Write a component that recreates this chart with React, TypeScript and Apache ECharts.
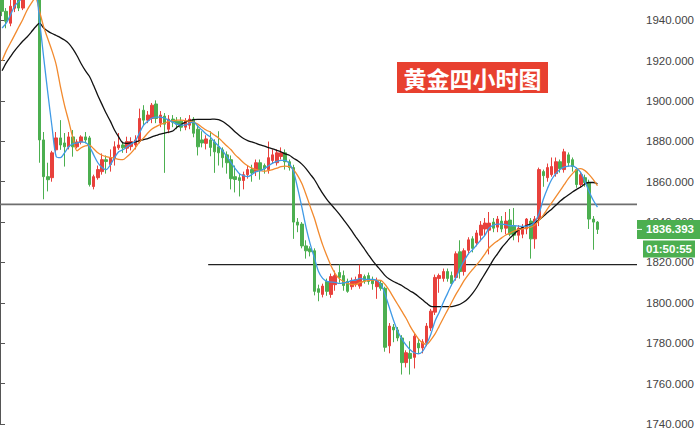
import React, { useEffect, useRef } from "react";
import * as echarts from "echarts";

// ---- data ----
const slotCount = 153; // category slots on the x axis (last ones are empty)
const categories: string[] = Array.from({ length: slotCount }, (_, i) => String(i));

// [open, close, low, high]
const ohlc: number[][] = [
  [1951, 1944.4, 1942, 1953], [1944.4, 1939.5, 1936, 1946], [1938.5, 1946.9, 1937, 1950], [1945.9, 1951, 1944, 1954],
  [1951, 1946, 1944.5, 1953], [1946, 1953, 1945, 1955], [1953, 1958, 1951, 1960], [1958, 1955, 1953, 1960],
  [1955, 1957, 1953, 1959], [1957, 1880.7, 1869.4, 1958], [1880.7, 1862.5, 1851.3, 1884.6], [1862.5, 1861, 1855.2, 1869.4],
  [1862, 1874.3, 1860, 1875.3], [1875.8, 1881.7, 1874.3, 1884.6], [1881.7, 1878.2, 1875.8, 1890.5], [1879.2, 1877.3, 1867.5, 1884.1],
  [1877.3, 1882.2, 1876, 1884.6], [1882.2, 1877.3, 1872.4, 1885.6], [1877.3, 1879.7, 1876.5, 1881], [1879.7, 1882.2, 1878.5, 1883],
  [1882.2, 1880.7, 1879, 1884.6], [1881.7, 1858.6, 1857.6, 1882.7], [1857.6, 1862.5, 1856.2, 1863.5], [1862, 1866, 1861, 1868],
  [1865, 1870.9, 1863.5, 1874], [1870.9, 1870, 1864, 1873], [1868.5, 1871.9, 1865, 1876], [1871.4, 1877.3, 1868, 1880],
  [1876.8, 1878.2, 1875.8, 1884.1], [1878.2, 1876.8, 1874.3, 1879.9], [1876.6, 1879.9, 1874.2, 1882.3], [1877.4, 1879.9, 1875.5, 1882],
  [1878.2, 1880.7, 1876, 1883], [1879.9, 1891.3, 1879, 1896.2], [1895.4, 1890.5, 1888, 1897.9], [1890.5, 1893, 1889, 1895],
  [1891.3, 1897.9, 1889, 1899], [1898.5, 1891.3, 1889, 1900.3], [1889, 1893, 1887, 1895], [1892.5, 1888.5, 1864.4, 1894],
  [1886, 1891, 1884, 1893], [1891, 1889.5, 1887, 1893], [1890, 1888.5, 1886, 1892], [1890, 1887, 1885, 1892],
  [1887, 1890, 1885.5, 1891.5], [1888, 1891, 1886, 1893], [1891, 1884, 1882, 1892], [1886, 1877.3, 1873, 1888],
  [1880.7, 1879.2, 1877, 1885], [1879, 1881.2, 1876, 1883], [1880.7, 1877, 1872.6, 1885], [1879.7, 1874.8, 1864.4, 1881],
  [1877.3, 1874.3, 1868, 1885], [1875.8, 1871.9, 1867, 1877], [1873.3, 1869.4, 1864, 1875], [1870.9, 1861.5, 1856.2, 1873],
  [1862.5, 1861.1, 1854.7, 1868], [1862, 1860.6, 1852.7, 1864], [1860.6, 1863.5, 1856.2, 1865], [1863.5, 1866, 1861.5, 1868],
  [1866, 1864.3, 1860, 1868.4], [1865, 1869.4, 1862.8, 1871], [1869.4, 1865.5, 1861, 1871], [1868, 1866.4, 1864, 1869],
  [1866, 1871.9, 1864, 1879.9], [1870.5, 1873.3, 1869, 1876], [1869.4, 1874.3, 1868, 1876], [1872.5, 1874.3, 1871, 1877],
  [1874.3, 1869.9, 1866, 1876], [1869.9, 1867, 1865.5, 1871], [1867, 1840, 1831.7, 1868.4], [1840, 1838.5, 1835, 1842],
  [1839, 1828.2, 1827, 1840], [1828.2, 1825.8, 1821.9, 1831], [1826.8, 1825.3, 1823, 1828], [1825.8, 1805.7, 1803.7, 1827],
  [1807, 1805.2, 1800.8, 1809], [1804.2, 1808.3, 1802.7, 1809.5], [1810.6, 1805.7, 1803.5, 1812], [1804.2, 1813, 1802.5, 1814.5],
  [1809, 1813.5, 1806, 1816], [1815, 1812.6, 1810, 1819], [1813.5, 1808.6, 1806, 1816], [1810.6, 1805.7, 1805, 1812],
  [1808, 1811, 1806.5, 1812.5], [1809.5, 1811.5, 1808, 1813], [1808.3, 1814, 1807, 1818.9], [1813, 1811, 1809.5, 1814],
  [1813.5, 1810.6, 1809, 1815], [1811.5, 1809.5, 1806.5, 1813], [1808, 1811, 1802, 1812.5], [1809.6, 1807.2, 1806, 1811],
  [1807.2, 1778, 1775.8, 1808], [1778.7, 1788.5, 1775, 1790], [1788, 1786.6, 1780.5, 1789.5], [1786.6, 1782.6, 1781, 1788],
  [1782.6, 1770.4, 1764.5, 1784], [1770.4, 1775.3, 1768, 1776.5], [1775, 1772.5, 1764.5, 1781], [1773, 1783.5, 1767.5, 1785],
  [1780, 1777.7, 1775, 1782], [1777.7, 1780.7, 1775, 1782], [1780.2, 1788.5, 1778.5, 1790], [1787.6, 1795.9, 1786, 1797],
  [1795.4, 1812.6, 1794, 1814], [1812.1, 1813.5, 1805, 1814.5], [1812.1, 1815.5, 1810.5, 1817], [1815.5, 1812.1, 1810.5, 1817],
  [1813.5, 1809.6, 1808.5, 1815.5], [1812.6, 1824.3, 1811, 1825.5], [1825.3, 1815.5, 1812, 1831], [1815.5, 1825.8, 1813.5, 1827],
  [1826, 1831.2, 1824, 1832.5], [1831.7, 1827, 1825, 1833], [1829.7, 1834.6, 1828, 1836], [1833.5, 1838.5, 1830.5, 1840.5],
  [1836.6, 1839.5, 1833, 1842], [1836, 1839.5, 1824, 1845], [1840, 1837, 1835, 1842], [1837.5, 1841.5, 1835, 1843],
  [1840.5, 1836.6, 1835, 1843], [1837, 1840.5, 1834, 1845], [1841, 1834, 1833, 1846.5], [1838, 1833.5, 1831, 1847],
  [1833.5, 1837, 1830, 1838.5], [1834, 1837.5, 1832, 1839], [1836.6, 1841.5, 1834, 1842], [1840.5, 1831.7, 1821.9, 1842],
  [1831.7, 1841.5, 1826.8, 1843], [1841.5, 1866, 1838, 1867], [1865, 1863, 1857.5, 1866], [1862, 1867, 1860, 1869],
  [1863.5, 1867.5, 1862.5, 1872], [1864, 1869.9, 1862.5, 1872], [1869.9, 1866.5, 1864.5, 1871], [1866, 1874.8, 1864.5, 1876.3],
  [1873.3, 1869.4, 1867.5, 1874.5], [1870.9, 1867.5, 1865, 1872], [1866, 1858.6, 1857, 1867], [1858.6, 1863.5, 1857, 1865],
  [1862, 1859.6, 1857.5, 1863.5], [1859.6, 1841.5, 1836.6, 1861], [1841.5, 1840, 1826.3, 1843], [1840, 1836.393, 1834.1, 1840.5],
];

const maBlue: number[] = [
  1936.1, 1938.5, 1942.5, 1946.9, 1949.3, 1951, 1952, 1953, 1954.5, 1939.5, 1921.4, 1903.7, 1887.1, 1872.4, 1871.9, 1874.3,
  1877.3, 1878.7, 1879.2, 1879.7, 1879.5, 1877.3, 1873.3, 1869.4, 1867, 1866, 1868.4, 1871.9, 1874.8, 1875.8, 1877.3, 1878.7,
  1880.2, 1884.1, 1888, 1890, 1891.5, 1892, 1892, 1891.5, 1890.5, 1889.5, 1888.5, 1888, 1888, 1889, 1889.5, 1887.5,
  1885.6, 1883.6, 1882.2, 1879.7, 1877.7, 1875.3, 1872.4, 1869.4, 1866.5, 1864, 1863, 1862.5, 1863.5, 1865, 1865.5, 1866.5,
  1867.9, 1869.2, 1870.1, 1870.6, 1870.6, 1868.9, 1865, 1856.7, 1847.4, 1837.5, 1829.2, 1822.4, 1815.5, 1812.1, 1810.6, 1810.3,
  1810.1, 1809.6, 1809.9, 1810.3, 1811.1, 1811.3, 1812.1, 1811.6, 1811.6, 1811.6, 1811.1, 1809.1, 1804.2, 1797.8, 1791.5, 1786.1,
  1782.2, 1779.2, 1776.8, 1775.3, 1774.8, 1776, 1779.7, 1784.6, 1791, 1795.4, 1800.3, 1804.7, 1809.1, 1812.5, 1817, 1820.9,
  1824.3, 1826.3, 1828.7, 1831.2, 1833.6, 1837.1, 1838.5, 1839, 1839, 1838.8, 1838.2, 1838.2, 1838, 1837.9, 1838, 1838.5,
  1840.2, 1844.4, 1851.3, 1856.7, 1861.1, 1864, 1866, 1867.2, 1867.7, 1867.8, 1866.7, 1864.5, 1860.1, 1855.2, 1850.8, 1847.4,
];

const maOrange: number[] = [
  1919.9, 1924.8, 1928.7, 1932.6, 1936.6, 1940.5, 1944.9, 1948.3, 1951, 1944.4, 1936.6, 1930.7, 1924.8, 1917.9, 1907.2, 1897.8,
  1890, 1881.7, 1875.3, 1876.8, 1877.7, 1878, 1876.3, 1874.3, 1873.1, 1872.4, 1872.1, 1871.6, 1871.1, 1870.9, 1872.4, 1874.3,
  1876.8, 1879.7, 1881.7, 1884.1, 1886.1, 1887.3, 1888.3, 1889, 1889.8, 1890.2, 1890.5, 1890.5, 1890.2, 1890, 1889.5, 1888.5,
  1887, 1885.6, 1884.6, 1883.1, 1881.7, 1879.7, 1877.7, 1875.8, 1873.3, 1871.4, 1869.4, 1867.9, 1866.7, 1866, 1865.5, 1865.2,
  1865.5, 1866, 1866.7, 1867.5, 1867.7, 1867.5, 1866, 1863, 1859.1, 1853.7, 1847.8, 1842, 1835.1, 1828.7, 1823.3, 1818.4,
  1814.5, 1812, 1810.6, 1809.6, 1809.1, 1809.1, 1810.1, 1810.6, 1811.1, 1811.3, 1811.3, 1811.1, 1809.1, 1806.2, 1802.7, 1799.3,
  1795.9, 1792.5, 1788.5, 1785.1, 1782.2, 1780.2, 1779.5, 1781.7, 1784.6, 1788.5, 1792.5, 1796.4, 1800.3, 1804.2, 1807.6, 1811.1,
  1814, 1816.5, 1818.9, 1821.4, 1824.3, 1827.3, 1829.2, 1830.7, 1832.2, 1833.6, 1834.6, 1835.6, 1836.3, 1836.6, 1837.1, 1837.5,
  1838.5, 1841, 1843.5, 1846.5, 1849.5, 1852.5, 1855.5, 1858.5, 1861.5, 1864, 1866, 1866.5, 1865.5, 1863.5, 1861, 1858,
];

const maBlack: number[] = [
  1915, 1918.9, 1921.9, 1924.8, 1927.3, 1929.7, 1931.7, 1934.1, 1936.6, 1938.5, 1936.1, 1934.6, 1933.4, 1932.4, 1931.4, 1930.2,
  1928.5, 1925.8, 1922.4, 1918.4, 1915, 1912.1, 1907.6, 1902.7, 1898.3, 1893.9, 1890, 1885.6, 1882.2, 1879.2, 1879, 1879.2,
  1879.7, 1880.2, 1880.9, 1881.4, 1882.2, 1882.9, 1883.6, 1884.1, 1884.6, 1885.1, 1887, 1888.3, 1889.5, 1890.2, 1890.7, 1890.9,
  1890.9, 1890.9, 1890.9, 1891, 1890.8, 1889.8, 1888.3, 1886.6, 1884.6, 1882.9, 1881.4, 1880.4, 1879.7, 1879, 1878.2, 1877.6,
  1876.9, 1876.3, 1875.5, 1874.8, 1873.8, 1873.1, 1871.6, 1870.4, 1868.7, 1866.5, 1863.8, 1861.1, 1857.6, 1854.2, 1851.3, 1848.8,
  1846.4, 1843.9, 1841.2, 1838.5, 1835.6, 1832.6, 1829.7, 1826.8, 1823.8, 1820.9, 1818.4, 1816, 1813.5, 1811.8, 1810.6, 1809.6,
  1808.6, 1807.2, 1805.9, 1804.7, 1803.2, 1801.5, 1799.8, 1798.3, 1798.1, 1798.1, 1798.1, 1798.1, 1798.1, 1798.6, 1799.3, 1800.5,
  1802.3, 1804.7, 1807.6, 1811.1, 1814.5, 1817.9, 1821.4, 1824.3, 1827.3, 1829.7, 1832.2, 1834.1, 1836.1, 1837.3, 1838.3, 1839,
  1839.8, 1841.2, 1842.9, 1844.7, 1846.4, 1848.3, 1850.3, 1852, 1853.4, 1854.9, 1856.2, 1857.4, 1858.9, 1859.6, 1859.6, 1858.9,
];

// horizontal levels: [start slot, price]
const levelUpper: number[] = [0, 1848.8];
const levelLower: number[] = [50, 1818.9];

const yTicks = { min: 1740, max: 1950, step: 20 };
const titleText = "黄金四小时图";
const countdownText = "01:50:55";

const UP = "#e8413c";
const DOWN = "#4caf50";

export default function App() {
  const ref = useRef<HTMLDivElement>(null);

  useEffect(() => {
    if (!ref.current) return;
    const chart = echarts.init(ref.current, undefined, { renderer: "svg" });
    const lastClose = ohlc[ohlc.length - 1][1];

    chart.setOption({
      animation: false,
      backgroundColor: "#ffffff",
      grid: { left: 0, right: 63, top: -1.4, bottom: 3, containLabel: false },
      xAxis: [
        { type: "category", data: categories, show: false, boundaryGap: true },
        { type: "value", min: 0, max: slotCount, show: false },
      ],
      yAxis: {
        type: "value",
        position: "right",
        min: yTicks.min,
        max: yTicks.max,
        interval: yTicks.step,
        axisLine: { show: true, lineStyle: { color: "#555", width: 1 } },
        axisTick: { show: true, length: 5, lineStyle: { color: "#555" } },
        splitLine: { show: false },
        axisLabel: {
          margin: 9,
          color: "#444",
          fontSize: 11.5,
          fontFamily: "Liberation Sans, Arial, sans-serif",
          showMaxLabel: false,
          formatter: (v: number) => v.toFixed(3),
        },
      },
      series: [
        {
          type: "candlestick",
          data: ohlc,
          barWidth: 3,
          clip: true,
          itemStyle: {
            color: UP,
            color0: DOWN,
            borderColor: UP,
            borderColor0: DOWN,
            borderWidth: 1,
          },
          z: 2,
        },
        {
          type: "line",
          data: levelUpper.length ? [[levelUpper[0], levelUpper[1]], [slotCount, levelUpper[1]]] : [],
          xAxisIndex: 1,
          showSymbol: false,
          lineStyle: { color: "#6e6e6e", width: 1.8 },
          z: 1,
        },
        {
          type: "line",
          data: [[levelLower[0], levelLower[1]], [slotCount, levelLower[1]]],
          xAxisIndex: 1,
          showSymbol: false,
          lineStyle: { color: "#222", width: 1.3 },
          z: 1,
        },
        {
          type: "line",
          data: maBlack,
          showSymbol: false,
          smooth: 0.3,
          clip: true,
          lineStyle: { color: "#111", width: 1.3 },
          z: 3,
        },
        {
          type: "line",
          data: maOrange,
          showSymbol: false,
          smooth: 0.3,
          clip: true,
          lineStyle: { color: "#f28a2e", width: 1.3 },
          z: 4,
        },
        {
          type: "line",
          data: maBlue,
          showSymbol: false,
          smooth: 0.3,
          clip: true,
          lineStyle: { color: "#3f9ae6", width: 1.3 },
          z: 5,
        },
      ],
    });

    const py = chart.convertToPixel({ yAxisIndex: 0 }, lastClose) as number;
    const axisX = chart.convertToPixel({ xAxisIndex: 1 }, slotCount) as number;

    chart.setOption({
      graphic: [
        {
          type: "group",
          left: 397,
          top: 62,
          children: [
            { type: "rect", shape: { x: 0, y: 0, width: 151, height: 31 }, style: { fill: "#e8402f" } },
            {
              type: "text",
              x: 75.5,
              y: 16,
              style: {
                text: titleText,
                fill: "#ffffff",
                font: 'bold 23px "Noto Sans CJK SC", sans-serif',
                textAlign: "center",
                textVerticalAlign: "middle",
                verticalAlign: "middle",
              },
            },
          ],
        },
        {
          type: "rect",
          shape: { x: axisX, y: py - 9.5, width: 700 - axisX, height: 19 },
          style: { fill: DOWN },
          z: 100,
        },
        {
          type: "line",
          shape: { x1: axisX, y1: py, x2: axisX + 5, y2: py },
          style: { stroke: "#ffffff", lineWidth: 1 },
          z: 101,
        },
        {
          type: "text",
          x: axisX + 9,
          y: py,
          style: {
            text: lastClose.toFixed(3),
            fill: "#ffffff",
            font: 'bold 11.5px "Liberation Sans", Arial, sans-serif',
            textAlign: "left",
            textVerticalAlign: "middle",
            verticalAlign: "middle",
          },
          z: 101,
        },
        {
          type: "rect",
          shape: { x: axisX + 6, y: py + 11, width: 52, height: 17 },
          style: { fill: DOWN },
          z: 100,
        },
        {
          type: "text",
          x: axisX + 32,
          y: py + 19.5,
          style: {
            text: countdownText,
            fill: "#ffffff",
            font: 'bold 11.5px "Liberation Sans", Arial, sans-serif',
            textAlign: "center",
            textVerticalAlign: "middle",
            verticalAlign: "middle",
          },
          z: 101,
        },
      ],
    });

    return () => chart.dispose();
  }, []);

  return (
    <div
      ref={ref}
      style={{ position: "fixed", left: 0, top: 0, width: 700, height: 430, background: "#fff" }}
    />
  );
}
